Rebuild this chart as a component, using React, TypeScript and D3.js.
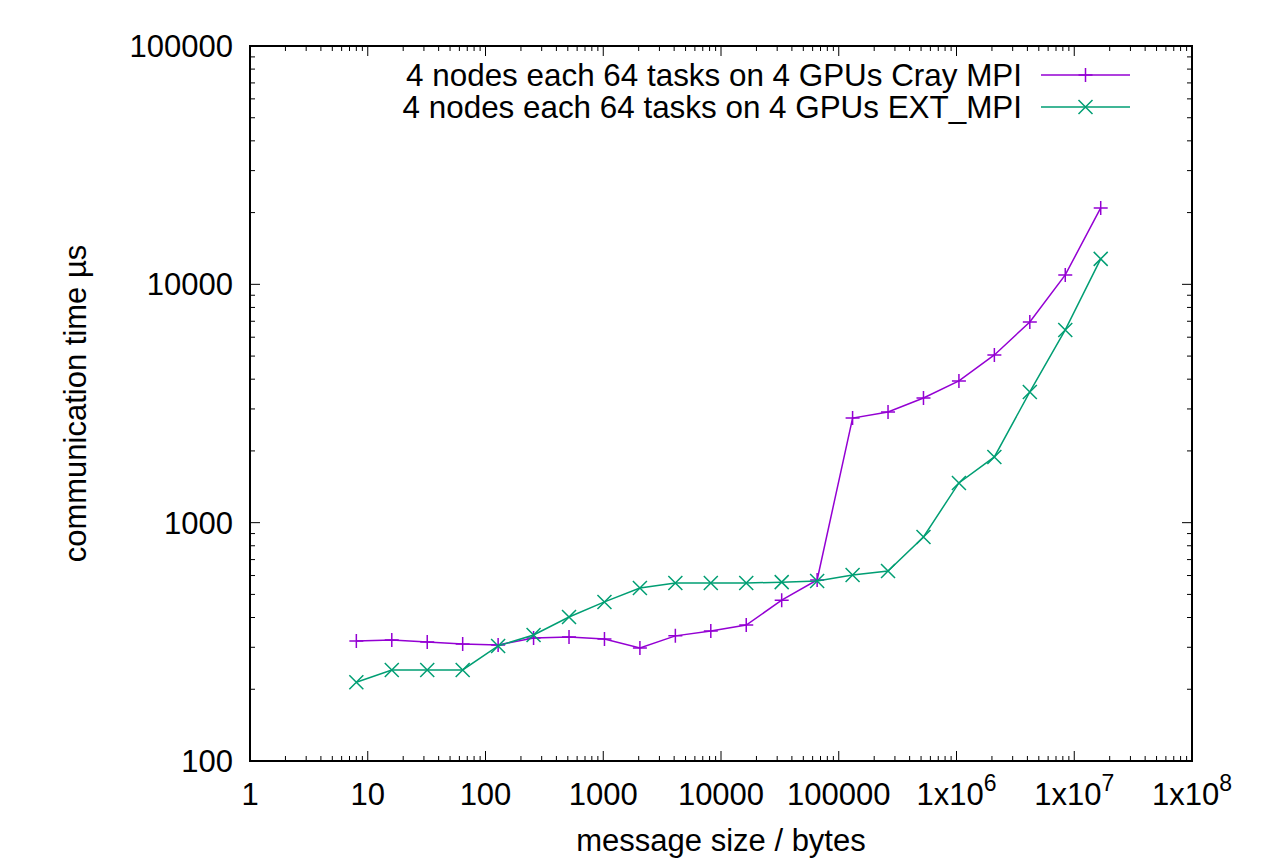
import * as d3 from "d3";
import { useEffect, useRef } from "react";

// message sizes in bytes: 8 .. 16 MiB
const sizes = [
  8, 16, 32, 64, 128, 256, 512, 1024, 2048, 4096, 8192, 16384, 32768, 65536,
  131072, 262144, 524288, 1048576, 2097152, 4194304, 8388608, 16777216,
];

const crayTimes = [
  319, 322, 316, 310, 307, 328, 331, 325, 298, 335, 351, 372, 473, 575,
  2748, 2914, 3335, 3932, 5054, 6950, 10952, 20930,
];

const extTimes = [
  214, 241, 241, 241, 304, 338, 402, 465, 532, 558, 558, 558, 563, 569,
  603, 627, 871, 1468, 1887, 3536, 6437, 12785,
];

const seriesNames = [
  "4 nodes each 64 tasks on 4 GPUs Cray MPI",
  "4 nodes each 64 tasks on 4 GPUs EXT_MPI",
];
const seriesColors = ["#9400d3", "#009e73"];

const xTickValues = [1, 10, 100, 1000, 10000, 100000, 1e6, 1e7, 1e8];
const yTickValues = [100, 1000, 10000, 100000];

const FONT = "'Liberation Sans', Arial, sans-serif";

export default function App() {
  const ref = useRef<SVGSVGElement>(null);

  useEffect(() => {
    const width = 1277, height = 864;
    const m = { left: 250, right: 85, top: 46, bottom: 103 };
    const svg = d3.select(ref.current);
    svg.selectAll("*").remove();
    svg.attr("width", width).attr("height", height);

    svg.append("rect").attr("width", width).attr("height", height).attr("fill", "white");

    const x = d3.scaleLog().domain([1, 1e8]).range([m.left, width - m.right]);
    const y = d3.scaleLog().domain([100, 100000]).range([height - m.bottom, m.top]);
    const [x0, x1] = x.range();
    const [y0, y1] = y.range(); // y0 bottom, y1 top

    const g = svg.append("g");

    // minor + major ticks, mirrored on all sides
    const xMinor: number[] = [];
    for (let e = 0; e < 8; e++) for (let k = 2; k <= 9; k++) xMinor.push(k * Math.pow(10, e));
    const yMinor: number[] = [];
    for (let e = 2; e < 5; e++) for (let k = 2; k <= 9; k++) yMinor.push(k * Math.pow(10, e));

    const tickLine = (x1_: number, y1_: number, x2_: number, y2_: number) =>
      g.append("line")
        .attr("x1", x1_).attr("y1", y1_).attr("x2", x2_).attr("y2", y2_)
        .attr("stroke", "black").attr("stroke-width", 1);

    xMinor.forEach(v => {
      tickLine(x(v), y0, x(v), y0 - 5);
      tickLine(x(v), y1, x(v), y1 + 5);
    });
    xTickValues.forEach(v => {
      tickLine(x(v), y0, x(v), y0 - 10);
      tickLine(x(v), y1, x(v), y1 + 10);
    });
    yMinor.forEach(v => {
      tickLine(x0, y(v), x0 + 5, y(v));
      tickLine(x1, y(v), x1 - 5, y(v));
    });
    yTickValues.forEach(v => {
      tickLine(x0, y(v), x0 + 10, y(v));
      tickLine(x1, y(v), x1 - 10, y(v));
    });

    // x tick labels
    xTickValues.forEach(v => {
      const t = g.append("text")
        .attr("x", x(v)).attr("y", y0 + 44)
        .attr("text-anchor", "middle")
        .attr("font-family", FONT).attr("font-size", 31);
      const e = Math.round(Math.log10(v));
      if (e >= 6) {
        t.append("tspan").text("1x10");
        t.append("tspan").attr("dy", -14).attr("font-size", 23).text(String(e));
      } else {
        t.text(String(v));
      }
    });

    // y tick labels
    yTickValues.forEach(v => {
      g.append("text")
        .attr("x", x0 - 17).attr("y", y(v) + 11)
        .attr("text-anchor", "end")
        .attr("font-family", FONT).attr("font-size", 31)
        .text(String(v));
    });

    // axis titles
    g.append("text")
      .attr("x", (x0 + x1) / 2).attr("y", 851)
      .attr("text-anchor", "middle")
      .attr("font-family", FONT).attr("font-size", 31)
      .text("message size / bytes");
    g.append("text")
      .attr("transform", `translate(86,${(y0 + y1) / 2}) rotate(-90)`)
      .attr("text-anchor", "middle")
      .attr("font-family", FONT).attr("font-size", 31)
      .text("communication time µs");

    // series
    const line = d3.line<[number, number]>().x(d => x(d[0])).y(d => y(d[1]));
    const all = [crayTimes, extTimes];
    const plus = (sel: any, cx: number, cy: number, color: string) => {
      sel.append("path")
        .attr("d", `M${cx - 7},${cy}H${cx + 7}M${cx},${cy - 7}V${cy + 7}`)
        .attr("stroke", color).attr("stroke-width", 1.5).attr("fill", "none");
    };
    const cross = (sel: any, cx: number, cy: number, color: string) => {
      sel.append("path")
        .attr("d", `M${cx - 7},${cy - 7}L${cx + 7},${cy + 7}M${cx - 7},${cy + 7}L${cx + 7},${cy - 7}`)
        .attr("stroke", color).attr("stroke-width", 1.5).attr("fill", "none");
    };
    const markers = [plus, cross];

    all.forEach((vals, i) => {
      const pts = sizes.map((s, j) => [s, vals[j]] as [number, number]);
      g.append("path")
        .attr("d", line(pts))
        .attr("fill", "none")
        .attr("stroke", seriesColors[i])
        .attr("stroke-width", 1.5);
      pts.forEach(p => markers[i](g, x(p[0]), y(p[1]), seriesColors[i]));
    });

    // legend
    seriesNames.forEach((name, i) => {
      const ly = 75 + i * 32;
      g.append("text")
        .attr("x", 1022).attr("y", ly + 11)
        .attr("text-anchor", "end")
        .attr("font-family", FONT).attr("font-size", 31.4)
        .text(name);
      g.append("line")
        .attr("x1", 1041).attr("x2", 1130).attr("y1", ly).attr("y2", ly)
        .attr("stroke", seriesColors[i]).attr("stroke-width", 1.5);
      markers[i](g, 1085.5, ly, seriesColors[i]);
    });

    // frame
    g.append("rect")
      .attr("x", x0).attr("y", y1)
      .attr("width", x1 - x0).attr("height", y0 - y1)
      .attr("fill", "none").attr("stroke", "black").attr("stroke-width", 2);
  }, []);

  return <svg ref={ref} style={{ display: "block", position: "absolute", left: 0, top: 0 }}></svg>;
}
